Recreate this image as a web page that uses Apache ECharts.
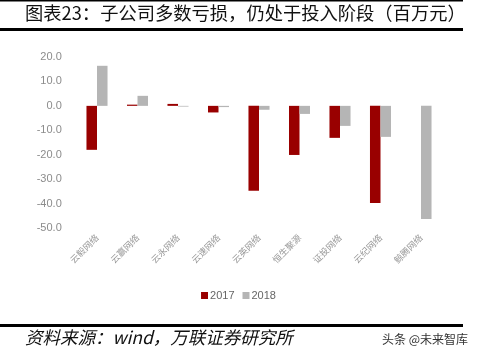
<!DOCTYPE html>
<html><head><meta charset="utf-8">
<script src="https://cdn.jsdelivr.net/npm/echarts@6/dist/echarts.min.js"></script>
<style>html,body{margin:0;padding:0;background:#fff}#c{width:477px;height:356px}</style>
</head><body><div id="c"></div>
<script>
const categories = ['云毅网络','云赢网络','云永网络','云速网络','云英网络','恒生聚源','证投网络','云纪网络','鲸腾网络'];
const v2017 = [-18.0, 0.5, 0.8, -2.7, -34.8, -20.1, -13.1, -39.8, 0];
const v2018 = [16.4, 4.1, -0.3, -0.5, -1.6, -3.3, -8.2, -12.7, -46.3];
const seriesNames = ['2017','2018'];
const titleText = '图表23：子公司多数亏损，仍处于投入阶段（百万元）';
const sourceText = '资料来源：wind，万联证券研究所';
const brandText = '头条 @未来智库';

const chart = echarts.init(document.getElementById('c'));
const CJK = '"Noto Sans CJK SC", "Noto Sans", sans-serif';
chart.setOption({
  animation: false,
  textStyle: {fontFamily: CJK},
  grid: {left: 76.75, right: 35.75, top: 57, bottom: 128},
  legend: {
    data: seriesNames, bottom: 50, left: 'center',
    itemWidth: 7, itemHeight: 7, itemGap: 8, icon: 'rect',
    textStyle: {color: '#666', fontSize: 11, fontFamily: 'Arial, "Liberation Sans", sans-serif', padding: [0,0,0,-3]}
  },
  xAxis: {
    type: 'category', data: categories,
    axisLine: {show: false}, axisTick: {show: false},
    axisLabel: {rotate: 45, color: '#999', fontSize: 9, interval: 0, margin: 8}
  },
  yAxis: {
    type: 'value', min: -50, max: 20, interval: 10,
    splitLine: {show: false}, axisLine: {show: false}, axisTick: {show: false},
    axisLabel: {color: '#8c8c8c', fontSize: 11, margin: 15,
      fontFamily: 'Arial, "Liberation Sans", sans-serif',
      formatter: v => v.toFixed(1)}
  },
  series: [
    {name: seriesNames[0], type: 'bar', data: v2017, barGap: '0%', barCategoryGap: '48%',
     itemStyle: {color: '#990000'}},
    {name: seriesNames[1], type: 'bar', data: v2018,
     itemStyle: {color: '#b5b5b5'}}
  ],
  graphic: [
    {type: 'rect', shape: {x: 0, y: 0, width: 463, height: 1.5}, style: {fill: '#000'}},
    {type: 'text', left: 25, top: 4, style: {text: titleText, font: '18.3px "Noto Sans CJK SC", sans-serif', fill: '#111'}},
    {type: 'rect', shape: {x: 0, y: 28, width: 463, height: 3}, style: {fill: '#000'}},
    {type: 'rect', shape: {x: 0, y: 324, width: 463, height: 3}, style: {fill: '#000'}},
    {type: 'text', left: 25, top: 329, style: {text: sourceText, font: 'italic 17.5px "Noto Sans CJK SC", sans-serif', fill: '#111'}},
    {type: 'text', left: 382, top: 333, style: {text: brandText, font: '12px "Noto Sans CJK SC", sans-serif', fill: '#333'}}
  ]
});
</script></body></html>
